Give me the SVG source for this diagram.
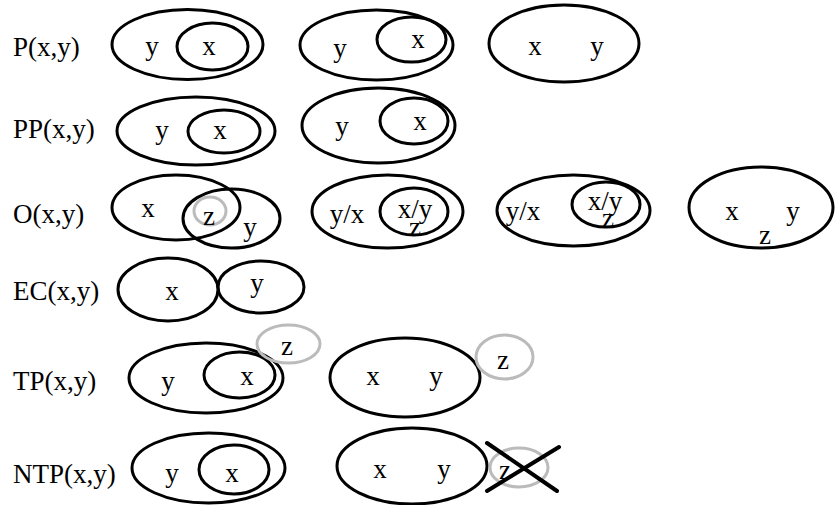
<svg xmlns="http://www.w3.org/2000/svg" width="835" height="505" viewBox="0 0 835 505">
<style>
.e{fill:none;stroke:#000;stroke-width:3}
.g{fill:none;stroke:#bbb;stroke-width:3}
text{font-family:"Liberation Serif","Times New Roman",serif;font-size:27px;fill:#000}
.c{text-anchor:middle}
.x{stroke:#000;stroke-width:4;stroke-linecap:round}
</style>
<rect width="835" height="505" fill="#fff"/>
<g id="labels">
<text x="13" y="56">P(x,y)</text>
<text x="13" y="138">PP(x,y)</text>
<text x="13" y="223">O(x,y)</text>
<text x="13" y="300">EC(x,y)</text>
<text x="13" y="390">TP(x,y)</text>
<text x="13" y="483">NTP(x,y)</text>
</g>
<g id="p1">
<ellipse class="e" cx="187.5" cy="44.5" rx="75.5" ry="35"/>
<ellipse class="e" cx="212.5" cy="46.5" rx="35.5" ry="23.5"/>
<text class="c" x="152" y="55">y</text>
<text class="c" x="209" y="55">x</text>
</g>
<g id="p2">
<ellipse class="e" cx="376.5" cy="45" rx="76.5" ry="35"/>
<ellipse class="e" cx="411.5" cy="39.5" rx="34.5" ry="22.5"/>
<text class="c" x="340" y="57">y</text>
<text class="c" x="418" y="48">x</text>
</g>
<g id="p3">
<ellipse class="e" cx="564" cy="43.5" rx="75" ry="38.5"/>
<text class="c" x="535" y="55">x</text>
<text class="c" x="597" y="55">y</text>
</g>
<g id="pp1">
<ellipse class="e" cx="196" cy="131" rx="79" ry="34"/>
<ellipse class="e" cx="224" cy="131.5" rx="36" ry="21.5"/>
<text class="c" x="162" y="139">y</text>
<text class="c" x="220" y="139">x</text>
</g>
<g id="pp2">
<ellipse class="e" cx="378.5" cy="125.5" rx="76.5" ry="37.5"/>
<ellipse class="e" cx="414" cy="121" rx="34" ry="23"/>
<text class="c" x="342" y="135">y</text>
<text class="c" x="420" y="130">x</text>
</g>
<g id="o1">
<ellipse class="e" cx="176" cy="207.5" rx="64" ry="32.5"/>
<ellipse class="e" cx="231.5" cy="218.5" rx="48.5" ry="29.5"/>
<ellipse class="g" cx="210" cy="211" rx="16" ry="14"/>
<text class="c" x="148" y="217">x</text>
<text class="c" x="209" y="225">z</text>
<text class="c" x="250" y="236">y</text>
</g>
<g id="o2">
<ellipse class="e" cx="387.5" cy="211.5" rx="75.5" ry="36.5"/>
<ellipse class="e" cx="414" cy="211.5" rx="34" ry="23.5"/>
<text class="c" x="347" y="223">y/x</text>
<text class="c" x="415" y="218">x/y</text>
<text class="c" x="415" y="236">z</text>
</g>
<g id="o3">
<ellipse class="e" cx="573.5" cy="210.5" rx="76.5" ry="35.5"/>
<ellipse class="e" cx="606" cy="204.5" rx="34" ry="22.5"/>
<text class="c" x="523" y="220">y/x</text>
<text class="c" x="605" y="210">x/y</text>
<text class="c" x="608" y="227">z</text>
</g>
<g id="o4">
<ellipse class="e" cx="761" cy="207.5" rx="72" ry="40.5"/>
<text class="c" x="732" y="220">x</text>
<text class="c" x="793" y="220">y</text>
<text class="c" x="765" y="244">z</text>
</g>
<g id="ec">
<ellipse class="e" cx="168" cy="289.5" rx="50" ry="31.5"/>
<ellipse class="e" cx="261" cy="287" rx="43" ry="26"/>
<text class="c" x="172" y="300">x</text>
<text class="c" x="257" y="292">y</text>
</g>
<g id="tp1">
<ellipse class="e" cx="206" cy="378" rx="77" ry="35"/>
<ellipse class="e" cx="239.5" cy="375" rx="35.5" ry="23"/>
<ellipse class="g" cx="288.5" cy="344" rx="31.5" ry="19"/>
<text class="c" x="168" y="390">y</text>
<text class="c" x="247" y="385">x</text>
<text class="c" x="287" y="355">z</text>
</g>
<g id="tp2">
<ellipse class="e" cx="405" cy="377.5" rx="75" ry="39.5"/>
<ellipse class="g" cx="504.5" cy="357" rx="28.5" ry="22"/>
<text class="c" x="373" y="385">x</text>
<text class="c" x="436" y="385">y</text>
<text class="c" x="503" y="369">z</text>
</g>
<g id="ntp1">
<ellipse class="e" cx="208.5" cy="468" rx="76.5" ry="35"/>
<ellipse class="e" cx="234" cy="469.5" rx="35" ry="24.5"/>
<text class="c" x="172" y="482">y</text>
<text class="c" x="232" y="482">x</text>
</g>
<g id="ntp2">
<ellipse class="e" cx="412" cy="466" rx="75" ry="38"/>
<ellipse class="g" cx="519" cy="467.5" rx="29" ry="19.5"/>
<text class="c" x="380" y="478">x</text>
<text class="c" x="444" y="478">y</text>
<text class="c" x="505" y="479">z</text>
<line class="x" x1="487" y1="443" x2="557" y2="491"/>
<line class="x" x1="559" y1="447" x2="487" y2="491"/>
</g>
</svg>
